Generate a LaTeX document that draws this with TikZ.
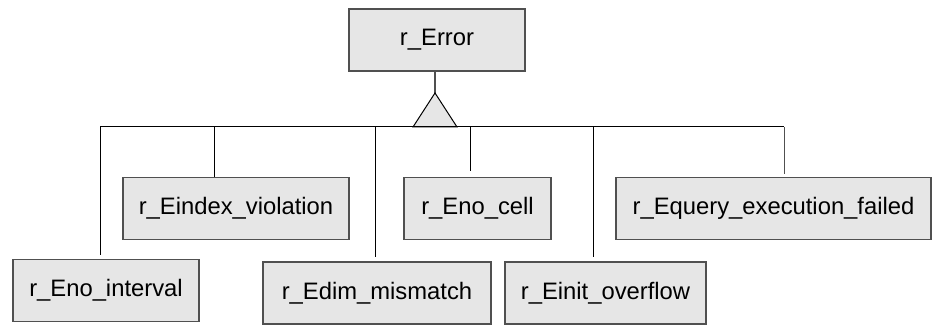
\documentclass[tikz,border=0pt]{standalone}
\usepackage{fontspec}
\setmainfont{Liberation Sans}
\definecolor{boxfill}{RGB}{230,230,230}
\definecolor{boxline}{RGB}{80,80,80}
\tikzset{
    cls/.style={draw=boxline,fill=boxfill,line width=0.6pt,inner sep=0pt,minimum height=31pt,
        font=\fontsize{11.9}{14}\selectfont},
    link/.style={draw=black,line width=0.5pt}
}

\begin{document}
\begin{tikzpicture}[x=0.5pt,y=-0.5pt]
    \useasboundingbox (0,0) rectangle (932,325);
    % Draw classes
    \node (err) [cls,minimum width=88pt] at (437,40) {r\_Error};
    \node (enoint) [cls,minimum width=93pt] at (106,290.5) {r\_Eno\_interval};
    \node (eindex) [cls,minimum width=113pt] at (236,208.5) {r\_Eindex\_violation};
    \node (edim) [cls,minimum width=114pt] at (377,293) {r\_Edim\_mismatch};
    \node (enocell) [cls,minimum width=73.5pt] at (477.5,208.5) {r\_Eno\_cell};
    \node (einit) [cls,minimum width=100.5pt] at (605.5,293) {r\_Einit\_overflow};
    \node (equery) [cls,minimum width=157.5pt] at (773.5,208.5) {r\_Equery\_execution\_failed};

    % Draw inheritance triangle
    \coordinate (tip) at (435,93);
    \draw [draw=boxline,line width=0.6pt] (err.south -| tip) -- (tip);
    \draw [link,fill=boxfill] (tip) -- ++(-22,34) -- ++(44,0) -- cycle;

    % Draw the bar and the drops
    \coordinate (barl) at (100,127);
    \coordinate (barr) at (784,127);
    \draw [link] (barl) -- (barr);
    \coordinate (d1) at (100,127);
    \coordinate (d2) at (214,127);
    \coordinate (d3) at (375,127);
    \coordinate (d4) at (470,127);
    \coordinate (d5) at (593,127);
    \coordinate (d6) at (784,127);
    \draw [link] (d1) -- ([yshift=2pt]d1 |- enoint.north);
    \draw [link] (d2) -- (d2 |- eindex.north);
    \draw [link] (d3) -- ([yshift=2pt]d3 |- edim.north);
    \draw [link] (d4) -- ([yshift=3pt]d4 |- enocell.north);
    \draw [link] (d5) -- ([yshift=2pt]d5 |- einit.north);
    \draw [link,draw=boxline] (d6) -- ([yshift=1.5pt]d6 |- equery.north);
\end{tikzpicture}
\end{document}
